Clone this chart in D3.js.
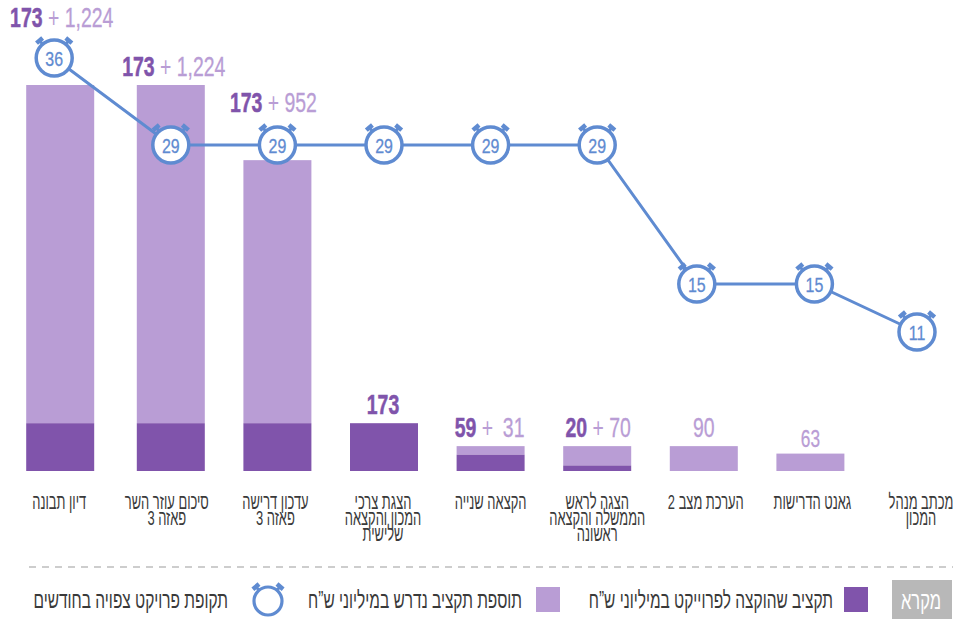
<!DOCTYPE html>
<html lang="he">
<head>
<meta charset="utf-8">
<style>
    html, body { margin: 0; padding: 0; background: #fff; }
    svg { display: block; }
    .cat, .legend-text { font-family: "Liberation Sans", sans-serif; fill: #3a3a3a; direction: rtl; }
    .num { font-family: "Liberation Sans Narrow", "Liberation Sans", sans-serif; }
</style>
</head>
<body>
<div id="chart"></div>
<script src="https://cdnjs.cloudflare.com/ajax/libs/d3/7.8.5/d3.min.js"></script>
<script>
// Data
const categories = ["דיון תבונה", "סיכום עוזר השר|פאזה 3", "עדכון דרישה|פאזה 3", "הצגת צרכי|המכון והקצאה|שלישית",
    "הקצאה שנייה", "הצגה לראש|הממשלה והקצאה|ראשונה", "הערכת מצב 2", "גאנט הדרישות", "מכתב מנהל|המכון"];
const allocated = [173, 173, 173, 173, 59, 20, 0, 0, 0];
const additional = [1224, 1224, 952, 0, 31, 70, 90, 63, 0];
const months = [36, 29, 29, 29, 29, 29, 15, 15, 11];
const legendTitle = "מקרא";
const legendLabels = ["תקציב שהוקצה לפרוייקט במיליוני ש”ח", "תוספת תקציב נדרש במיליוני ש”ח", "תקופת פרויקט צפויה בחודשים"];

const dark = "#8054ab", light = "#b99dd5", blue = "#5f8bd1";
const width = 955, height = 619, baseY = 471;

const svg = d3.select("#chart").append("svg")
    .attr("width", width)
    .attr("height", height);

// Scales
const x = d3.scalePoint().domain(d3.range(categories.length)).range([64.2, 917]);
const y = d3.scaleLinear().domain([0, 1397]).range([baseY, 85]);
// the clock track in the original is not evenly spaced
const yClock = d3.scaleLinear().domain([11, 15, 29, 36]).range([332, 284, 145, 58]);

// hand nudges, the original is slightly off its grid
const barNudge = { 0: -4 };
const clockNudge = { 0: -10, 6: -7, 7: 4 };
const labelLift = { 0: 49, 2: 39 };
const labelNudge = { 0: 1.5, 1: 3, 2: -4, 3: -1, 4: -1, 5: 1 };
const catNudge = { 0: -5, 1: -4, 2: -2, 3: -1, 6: 2, 7: 2, 8: 4 };
const barX = i => x(i) + (barNudge[i] || 0);
const clockX = i => x(i) + (clockNudge[i] || 0);
const barW = 68;

// Bars
const bars = svg.append("g");
categories.forEach((c, i) => {
    if (additional[i] > 0) {
        bars.append("rect")
            .attr("x", barX(i) - barW / 2).attr("width", barW)
            .attr("y", y(allocated[i] + additional[i]))
            .attr("height", y(allocated[i]) - y(allocated[i] + additional[i]))
            .attr("fill", light);
    }
    if (allocated[i] > 0) {
        bars.append("rect")
            .attr("x", barX(i) - barW / 2).attr("width", barW)
            .attr("y", y(allocated[i]))
            .attr("height", baseY - y(allocated[i]))
            .attr("fill", dark);
    }
});

// Value labels
categories.forEach((c, i) => {
    const a = allocated[i], b = additional[i];
    if (!a && !b) return;
    const top = y(a + b);
    const t = svg.append("text")
        .attr("class", "num")
        .attr("text-anchor", "middle")
        .attr("direction", "ltr")
        .attr("font-size", i === 7 ? 24 : 27)
        .attr("transform", `translate(${barX(i) + (labelNudge[i] || 0)},${top - (i === 7 ? 7 : 9) - (labelLift[i] || 0)}) scale(0.72,1)`);
    if (a) t.append("tspan").attr("fill", dark).attr("stroke", dark).attr("stroke-width", 0.5).attr("font-weight", "bold").text(a);
    if (a && b) t.append("tspan").attr("fill", light).text(" + ");
    if (b) t.append("tspan").attr("fill", light).attr("stroke", light).attr("stroke-width", 0.3).attr("dx", i === 4 ? 6 : 0).text(d3.format(",")(b));
});

// Line connecting the clocks
svg.append("path")
    .attr("d", d3.line().x((d, i) => clockX(i)).y(d => yClock(d))(months))
    .attr("fill", "none")
    .attr("stroke", blue)
    .attr("stroke-width", 3);

function drawClock(parent, cx, cy, r, sw) {
    const g = parent.append("g").attr("transform", `translate(${cx},${cy})`);
    [-40, 40].forEach(a => {
        const knob = g.append("g").attr("transform", `rotate(${a}) translate(0,${-r - 2.5})`);
        knob.append("rect").attr("x", -1.5).attr("y", -1).attr("width", 3).attr("height", 4).attr("fill", blue);
        knob.append("rect").attr("x", -4).attr("y", -4.5).attr("width", 8).attr("height", 4.5).attr("fill", blue);
    });
    g.append("circle").attr("r", r).attr("fill", "#fff").attr("stroke", blue).attr("stroke-width", sw);
    return g;
}

months.forEach((m, i) => {
    drawClock(svg, clockX(i), yClock(m), 18, 3.5)
        .append("text")
        .attr("class", "num")
        .attr("text-anchor", "middle")
        .attr("font-size", 21)
        .attr("transform", "translate(0,7.5) scale(0.76,1)")
        .attr("fill", blue)
        .attr("stroke", blue)
        .attr("stroke-width", 0.3)
        .text(m);
});

// Category labels
categories.forEach((c, i) => {
    const g = svg.append("g").attr("transform", `translate(${x(i) + (catNudge[i] || 0)},0)`);
    c.split("|").forEach((line, k) => {
        g.append("text")
            .attr("class", "cat")
            .attr("text-anchor", "middle")
            .attr("font-size", 21)
            .attr("transform", `translate(0,${509 + k * 16}) scale(0.615,1)`)
            .text(line);
    });
});

// Legend
svg.append("line")
    .attr("x1", 29).attr("x2", 953).attr("y1", 567).attr("y2", 567)
    .attr("stroke", "#bdbdbd").attr("stroke-width", 1.5)
    .attr("stroke-dasharray", "7 6");

svg.append("rect").attr("x", 892).attr("y", 580).attr("width", 60).attr("height", 39).attr("fill", "#b8b8b8");
svg.append("text")
    .attr("class", "legend-text")
    .attr("text-anchor", "middle")
    .attr("font-size", 25)
    .attr("transform", "translate(921,609) scale(0.66,1)")
    .style("fill", "#fff")
    .text(legendTitle);

svg.append("rect").attr("x", 844).attr("y", 587).attr("width", 24).attr("height", 25).attr("fill", dark);
svg.append("rect").attr("x", 536).attr("y", 587).attr("width", 24).attr("height", 25).attr("fill", light);
drawClock(svg, 268, 601, 14, 3.2);

[833, 522, 228].forEach((lx, i) => {
    svg.append("text")
        .attr("class", "legend-text")
        .attr("text-anchor", "start")
        .attr("font-size", 24)
        .attr("transform", `translate(${lx},608) scale(0.645,1)`)
        .text(legendLabels[i]);
});
</script>
</body>
</html>
